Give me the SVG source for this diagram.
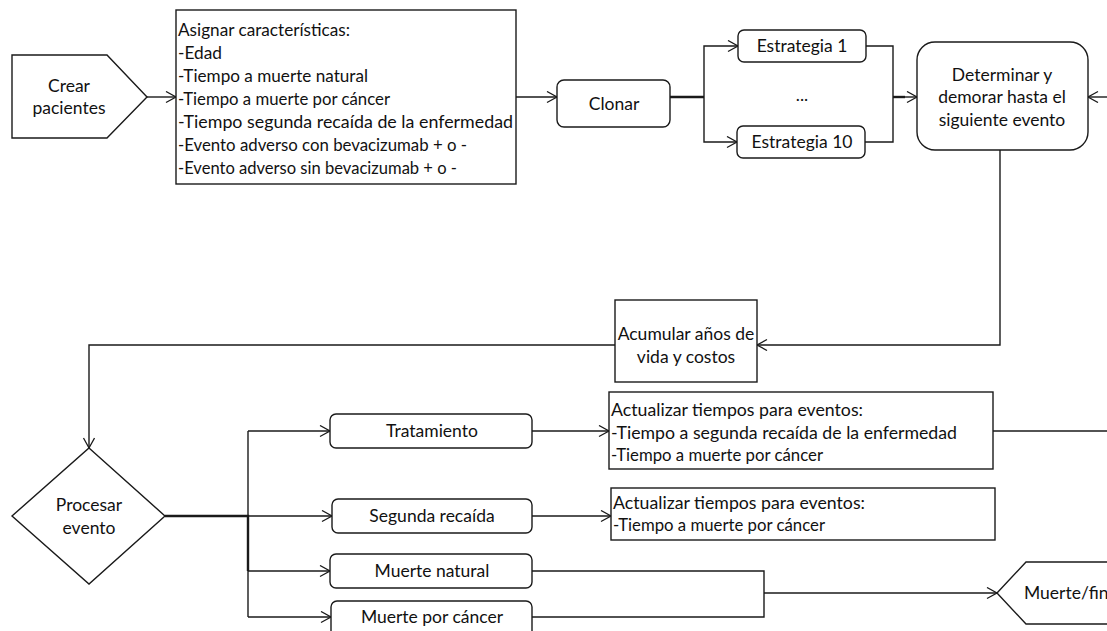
<svg xmlns="http://www.w3.org/2000/svg" width="1107" height="631" viewBox="0 0 1107 631">
  <defs>
    <!-- open chevron arrowhead -->
    <marker id="arrow" markerUnits="userSpaceOnUse" markerWidth="14" markerHeight="14" refX="11" refY="6" orient="auto">
      <path d="M1,0.5 L11,6 L1,11.5" fill="none" stroke="#1a1a1a" stroke-width="1.3"/>
    </marker>
    <style>
      .shape { fill: #ffffff; stroke: #1a1a1a; stroke-width: 1.4; }
      .conn { fill: none; stroke: #1a1a1a; stroke-width: 1.4; }
      .thick { stroke-width: 2.4; }
      .arr { marker-end: url(#arrow); }
      text { font-family: Lato, "Liberation Sans", sans-serif; font-size: 17.5px; fill: #111111; }
      .c { text-anchor: middle; }
    </style>
  </defs>
  <rect width="1107" height="631" fill="#ffffff"/>

  <!-- connectors -->
  <g id="connectors">
    <path class="conn arr" d="M147,97 H176"/>
    <path class="conn arr" d="M516,97 H557"/>
    <path class="conn thick" d="M670,97 H704"/>
    <path class="conn arr" d="M704,97 V46 H738"/>
    <path class="conn arr" d="M704,97 V142 H737"/>
    <path class="conn" d="M866,46 H893 V142 H865"/>
    <path class="conn thick" d="M893,97 H905"/>
    <path class="conn arr" d="M905,97 H917"/>
    <path class="conn arr" d="M1107,97 H1088"/>
    <path class="conn arr" d="M1000,150 V345 H757"/>
    <path class="conn arr" d="M615,345 H89 V448"/>
    <path class="conn thick" d="M165,516 H248 V571"/>
    <path class="conn" d="M248,516 V431"/>
    <path class="conn" d="M248,571 V617"/>
    <path class="conn arr" d="M248,431 H330"/>
    <path class="conn arr" d="M248,516 H332"/>
    <path class="conn arr" d="M248,571 H330"/>
    <path class="conn arr" d="M248,617 H331"/>
    <path class="conn arr" d="M532,431 H609"/>
    <path class="conn arr" d="M532,516 H611"/>
    <path class="conn" d="M993,431 H1107"/>
    <path class="conn" d="M532,571 H764 V617 H532"/>
    <path class="conn arr" d="M764,593 H997"/>
  </g>

  <g id="crear-pacientes">
    <polygon class="shape" points="12,55 107,55 147,97 107,138 12,138"/>
    <text class="c" x="69" y="92">Crear</text>
    <text class="c" x="69" y="114">pacientes</text>
  </g>

  <g id="asignar">
    <rect class="shape" x="176" y="10" width="340" height="174"/>
    <text x="178" y="36" textLength="172" lengthAdjust="spacingAndGlyphs">Asignar características:</text>
    <text x="178" y="59" textLength="44" lengthAdjust="spacingAndGlyphs">-Edad</text>
    <text x="178" y="82" textLength="190" lengthAdjust="spacingAndGlyphs">-Tiempo a muerte natural</text>
    <text x="178" y="105" textLength="212" lengthAdjust="spacingAndGlyphs">-Tiempo a muerte por cáncer</text>
    <text x="178" y="128" textLength="335" lengthAdjust="spacingAndGlyphs">-Tiempo segunda recaída de la enfermedad</text>
    <text x="178" y="151" textLength="289" lengthAdjust="spacingAndGlyphs">-Evento adverso con bevacizumab + o -</text>
    <text x="178" y="174" textLength="279" lengthAdjust="spacingAndGlyphs">-Evento adverso sin bevacizumab + o -</text>
  </g>

  <g id="clonar">
    <rect class="shape" x="557" y="80" width="113" height="47" rx="7"/>
    <text class="c" x="614" y="110">Clonar</text>
  </g>

  <g id="estrategia-1">
    <rect class="shape" x="738" y="30" width="128" height="32" rx="6"/>
    <text class="c" x="802" y="52">Estrategia 1</text>
  </g>

  <g id="ellipsis">
    <text class="c" x="802" y="101">...</text>
  </g>

  <g id="estrategia-10">
    <rect class="shape" x="737" y="126" width="128" height="32" rx="6"/>
    <text class="c" x="802" y="148">Estrategia 10</text>
  </g>

  <g id="determinar">
    <rect class="shape" x="917" y="42" width="171" height="108" rx="18"/>
    <text class="c" x="1002" y="81">Determinar y</text>
    <text class="c" x="1002" y="103">demorar hasta el</text>
    <text class="c" x="1002" y="126">siguiente evento</text>
  </g>

  <g id="acumular">
    <rect class="shape" x="615" y="300" width="142" height="82"/>
    <text class="c" x="686" y="340">Acumular años de</text>
    <text class="c" x="686" y="363">vida y costos</text>
  </g>

  <g id="procesar-evento">
    <polygon class="shape" points="89,448 165,516 89,584 12,516"/>
    <text class="c" x="89" y="511">Procesar</text>
    <text class="c" x="89" y="534">evento</text>
  </g>

  <g id="tratamiento">
    <rect class="shape" x="330" y="414" width="202" height="34" rx="6"/>
    <text class="c" x="432" y="437">Tratamiento</text>
  </g>

  <g id="segunda-recaida">
    <rect class="shape" x="332" y="499" width="200" height="34" rx="6"/>
    <text class="c" x="432" y="522">Segunda recaída</text>
  </g>

  <g id="muerte-natural">
    <rect class="shape" x="330" y="554" width="202" height="34" rx="6"/>
    <text class="c" x="432" y="577">Muerte natural</text>
  </g>

  <g id="muerte-cancer">
    <rect class="shape" x="331" y="601" width="201" height="36" rx="6"/>
    <text class="c" x="432" y="623">Muerte por cáncer</text>
  </g>

  <g id="actualizar-1">
    <rect class="shape" x="609" y="392" width="384" height="77"/>
    <text x="611" y="416" textLength="252" lengthAdjust="spacingAndGlyphs">Actualizar tiempos para eventos:</text>
    <text x="611" y="439" textLength="346" lengthAdjust="spacingAndGlyphs">-Tiempo a segunda recaída de la enfermedad</text>
    <text x="611" y="461" textLength="212" lengthAdjust="spacingAndGlyphs">-Tiempo a muerte por cáncer</text>
  </g>

  <g id="actualizar-2">
    <rect class="shape" x="611" y="488" width="384" height="52"/>
    <text x="613" y="509" textLength="252" lengthAdjust="spacingAndGlyphs">Actualizar tiempos para eventos:</text>
    <text x="613" y="531" textLength="212" lengthAdjust="spacingAndGlyphs">-Tiempo a muerte por cáncer</text>
  </g>

  <g id="muerte-fin">
    <polygon class="shape" points="997,593 1026,562 1120,562 1120,624 1026,624"/>
    <text x="1024" y="599">Muerte/fin</text>
  </g>
</svg>
